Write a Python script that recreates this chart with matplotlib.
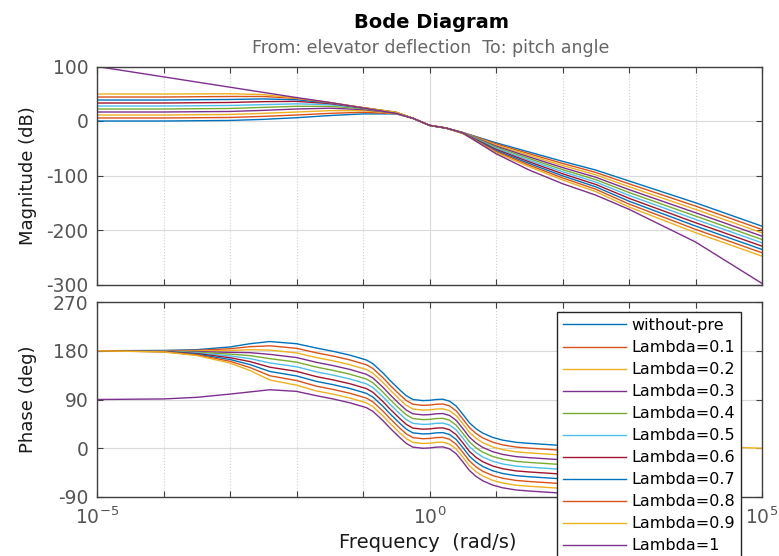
import numpy as np
import matplotlib
matplotlib.use("Agg")
import matplotlib.pyplot as plt
from matplotlib.ticker import FixedLocator, NullFormatter, FixedFormatter

plt.rcParams['font.family'] = ['DejaVu Sans']
plt.rcParams['axes.unicode_minus'] = False
plt.rcParams['mathtext.default'] = 'regular'

# ---------------- data ----------------
series_labels = ['without-pre', 'Lambda=0.1', 'Lambda=0.2', 'Lambda=0.3', 'Lambda=0.4',
                 'Lambda=0.5', 'Lambda=0.6', 'Lambda=0.7', 'Lambda=0.8', 'Lambda=0.9',
                 'Lambda=1']

# log10 of frequency (rad/s) at which values were read
mag_logw = [-5, -4, -3, -2.5, -2, -1.5, -1, -0.5, -0.25, 0, 0.25, 0.5, 1, 1.5, 2, 2.5, 3, 4, 5]
phase_logw = [-5, -4, -3.5, -3, -2.7, -2.4, -2, -1.7, -1.45, -1.2, -0.95, -0.85, -0.7, -0.6,
              -0.45, -0.35, -0.25, -0.1, 0, 0.1, 0.2, 0.3, 0.4, 0.5, 0.6, 0.7, 0.8, 0.95,
              1.1, 1.3, 1.5, 2, 2.5, 3, 4, 4.5, 5]

# Magnitude (dB)
mag_wo  = [0, 0, 1, 3, 6, 10, 13, 13, 5, -8, -13, -21, -40, -57, -74, -90, -110, -150, -193]
mag_l01 = [5.5, 5.5, 6.5, 8.5, 11, 14, 16, 13.5, 5, -8, -13, -21.2, -42, -60, -77.8, -94.4, -115.3, -156.1, -199.1]
mag_l02 = [11, 11, 12, 14, 16.5, 19, 19, 14, 5, -8, -13, -21.4, -44, -63, -81.6, -98.8, -120.6, -162.2, -205.2]
mag_l03 = [16.5, 16.5, 17.5, 19.5, 22, 23.5, 21, 14.5, 5, -8, -13, -21.6, -46, -66, -85.4, -103.2, -125.9, -168.3, -211.3]
mag_l04 = [22, 22, 23, 25, 27, 27, 22.5, 15, 5, -8, -13, -21.8, -48, -69, -89.2, -107.6, -131.2, -174.4, -217.4]
mag_l05 = [27.5, 27.5, 28.5, 30, 31.5, 30, 23.5, 15, 5, -8, -13, -22, -50, -72, -93, -112, -136.5, -180.5, -223.5]
mag_l06 = [33, 33, 34, 35.5, 36, 32, 24, 15.5, 5, -8, -13, -22.2, -52, -75, -96.8, -116.4, -141.8, -186.6, -229.6]
mag_l07 = [38.5, 38.5, 39.5, 40.5, 39, 33, 24.5, 15.5, 5, -8, -13, -22.4, -54, -78, -100.6, -120.8, -147.1, -192.7, -235.7]
mag_l08 = [44, 44, 45, 45, 41.5, 33.5, 24.5, 16, 5, -8, -13, -22.6, -56, -81, -104.4, -125.2, -152.4, -198.8, -241.8]
mag_l09 = [49.5, 49.5, 50, 48.5, 42, 34, 24.5, 16, 5, -8, -13, -22.8, -58, -84, -108.2, -129.6, -157.7, -204.9, -247.9]
mag_l10 = [100, 81, 62, 52.5, 43, 34, 24, 14, 5, -8, -13, -22, -60, -90, -115, -136, -162, -222, -298]

# Phase (deg)
ph_wo  = [180, 180.5, 182, 187, 193, 197, 193,
          185, 179, 172, 163, 156, 139, 126, 108, 97, 90, 88, 88.5, 90, 90.5, 87, 78, 63, 47, 36, 28, 20, 15, 11, 9, 5, -5, -40, -150, -170, -178]
ph_l01 = [180, 180.2, 180.8, 183.7, 187.5, 189.1, 184.5,
          176.2, 170.2, 163.2, 154.2, 147.2, 130.2, 117.2, 99.2, 88.2, 81.2, 79.2, 79.7, 81.2, 81.7, 78.2, 69.2, 54.2, 38.2, 27.2, 19.2, 11.2, 6.2, 2.2, 0.2, -3.8, -13.8, -48.8, -158.8, -178.8, -186.8]
ph_l02 = [180, 179.9, 179.6, 180.4, 182, 181.2, 176,
          167.4, 161.4, 154.4, 145.4, 138.4, 121.4, 108.4, 90.4, 79.4, 72.4, 70.4, 70.9, 72.4, 72.9, 69.4, 60.4, 45.4, 29.4, 18.4, 10.4, 2.4, -2.6, -6.6, -8.6, -12.6, -22.6, -57.6, -167.6, -187.6, -195.6]
ph_l03 = [180, 179.6, 178.4, 177.1, 176.5, 173.3, 167.5,
          158.6, 152.6, 145.6, 136.6, 129.6, 112.6, 99.6, 81.6, 70.6, 63.6, 61.6, 62.1, 63.6, 64.1, 60.6, 51.6, 36.6, 20.6, 9.6, 1.6, -6.4, -11.4, -15.4, -17.4, -21.4, -31.4, -66.4, -176.4, -196.4, -204.4]
ph_l04 = [180, 179.3, 177.2, 173.8, 171, 165.4, 159,
          149.8, 143.8, 136.8, 127.8, 120.8, 103.8, 90.8, 72.8, 61.8, 54.8, 52.8, 53.3, 54.8, 55.3, 51.8, 42.8, 27.8, 11.8, 0.8, -7.2, -15.2, -20.2, -24.2, -26.2, -30.2, -40.2, -75.2, -185.2, -205.2, -213.2]
ph_l05 = [180, 179, 176, 170.5, 165.5, 157.5, 150.5,
          141, 135, 128, 119, 112, 95, 82, 64, 53, 46, 44, 44.5, 46, 46.5, 43, 34, 19, 3, -8, -16, -24, -29, -33, -35, -39, -49, -84, -194, -214, -222]
ph_l06 = [180, 178.7, 174.8, 167.2, 160, 149.6, 142,
          132.2, 126.2, 119.2, 110.2, 103.2, 86.2, 73.2, 55.2, 44.2, 37.2, 35.2, 35.7, 37.2, 37.7, 34.2, 25.2, 10.2, -5.8, -16.8, -24.8, -32.8, -37.8, -41.8, -43.8, -47.8, -57.8, -92.8, -202.8, -222.8, -230.8]
ph_l07 = [180, 178.4, 173.6, 163.9, 154.5, 141.7, 133.5,
          123.4, 117.4, 110.4, 101.4, 94.4, 77.4, 64.4, 46.4, 35.4, 28.4, 26.4, 26.9, 28.4, 28.9, 25.4, 16.4, 1.4, -14.6, -25.6, -33.6, -41.6, -46.6, -50.6, -52.6, -56.6, -66.6, -101.6, -211.6, -231.6, -239.6]
ph_l08 = [180, 178.1, 172.4, 160.6, 149, 133.8, 125,
          114.6, 108.6, 101.6, 92.6, 85.6, 68.6, 55.6, 37.6, 26.6, 19.6, 17.6, 18.1, 19.6, 20.1, 16.6, 7.6, -7.4, -23.4, -34.4, -42.4, -50.4, -55.4, -59.4, -61.4, -65.4, -75.4, -110.4, -220.4, -240.4, -248.4]
ph_l09 = [180, 177.8, 171.2, 157.3, 143.5, 125.9, 116.5,
          105.8, 99.8, 92.8, 83.8, 76.8, 59.8, 46.8, 28.8, 17.8, 10.8, 8.8, 9.3, 10.8, 11.3, 7.8, -1.2, -16.2, -32.2, -43.2, -51.2, -59.2, -64.2, -68.2, -70.2, -74.2, -84.2, -119.2, -229.2, 2, 0]
ph_l10 = [90, 91, 94, 100, 104, 108, 105,
          97, 91, 84, 75, 68, 51, 38, 20, 9, 2, 0, 0.5, 2, 2.5, -1, -10, -25, -41, -52, -60, -68, -73, -77, -79, -83, -93, -128, -238, -258, -266]

mag_series = [mag_wo, mag_l01, mag_l02, mag_l03, mag_l04, mag_l05, mag_l06, mag_l07, mag_l08, mag_l09, mag_l10]
phase_series = [ph_wo, ph_l01, ph_l02, ph_l03, ph_l04, ph_l05, ph_l06, ph_l07, ph_l08, ph_l09, ph_l10]

mag_ticks = [-300, -200, -100, 0, 100]
phase_ticks = [-90, 0, 90, 180, 270]
x_major = [1e-5, 1e0, 1e5]
x_major_labels = ['$10^{-5}$', '$10^{0}$', '$10^{5}$']
x_minor = [1e-4, 1e-3, 1e-2, 1e-1, 1e1, 1e2, 1e3, 1e4]

# ---------------- style ----------------
colors = ['#0072BD', '#D95319', '#EDB120', '#7E2F8E', '#77AC30', '#4DBEEE',
          '#A2142F', '#0072BD', '#D95319', '#EDB120', '#7E2F8E']

W, H = 779, 556
fig = plt.figure(figsize=(W / 100, H / 100), dpi=100)


def rect(l, t, r, b):
    return [l / W, 1 - b / H, (r - l) / W, (b - t) / H]


ax1 = fig.add_axes(rect(97, 66.5, 762, 284.5))
ax2 = fig.add_axes(rect(97, 302, 762, 497))

wm = 10.0 ** np.array(mag_logw)
wp = 10.0 ** np.array(phase_logw)
handles = []
for m, p, c in zip(mag_series, phase_series, colors):
    ax1.plot(wm, m, color=c, lw=1.0)
    h, = ax2.plot(wp, p, color=c, lw=1.0)
    handles.append(h)

for ax, yt, ylim in ((ax1, mag_ticks, (-300, 100)), (ax2, phase_ticks, (-90, 270))):
    ax.set_xscale('log')
    ax.set_xlim(1e-5, 1e5)
    ax.set_ylim(*ylim)
    ax.set_yticks(yt)
    ax.set_yticklabels([str(v) for v in yt])
    ax.xaxis.set_major_locator(FixedLocator(x_major))
    ax.xaxis.set_minor_locator(FixedLocator(x_minor))
    ax.xaxis.set_minor_formatter(NullFormatter())
    ax.xaxis.set_major_formatter(FixedFormatter(x_major_labels))
    ax.set_axisbelow(True)
    ax.grid(True, which='major', color='#dadada', lw=0.8, ls='-')
    ax.xaxis.grid(True, which='minor', color='#d0d0d0', lw=0.8, ls=':')
    ax.tick_params(which='both', direction='in', top=True, right=True,
                   length=4, width=0.8, color='#404040', labelcolor='#555555',
                   labelsize=13.5, pad=6)
    for s in ax.spines.values():
        s.set_color('#404040')
        s.set_linewidth(1.0)
    ax.set_facecolor('white')

ax1.tick_params(labelbottom=False)
ax2.tick_params(axis='x', pad=7)

ax1.set_ylabel('Magnitude (dB)', fontsize=13, color='#1a1a1a')
ax2.set_ylabel('Phase (deg)', fontsize=13, color='#1a1a1a')
ax1.yaxis.set_label_coords(-0.09, 0.5)
ax2.yaxis.set_label_coords(-0.09, 0.5)
ax2.set_xlabel('Frequency  (rad/s)', fontsize=14, color='#1a1a1a')
ax2.xaxis.set_label_coords(0.498, -0.185)

fig.text(431 / W, 1 - 22 / H, 'Bode Diagram', ha='center', va='center',
         fontsize=14, fontweight='bold', color='black')
fig.text(431 / W, 1 - 48 / H, 'From: elevator deflection  To: pitch angle',
         ha='center', va='center', fontsize=12.5, color='#666666')

leg = fig.legend(handles, series_labels, loc='upper left',
                 bbox_to_anchor=(557 / W, 1 - 312 / H), bbox_transform=fig.transFigure,
                 borderaxespad=0, frameon=True, fancybox=False, framealpha=1,
                 edgecolor='#262626', fontsize=11.5, handlelength=3.95,
                 handletextpad=0.33, labelspacing=0.44, borderpad=0.38)
leg.get_frame().set_linewidth(1.0)

fig.savefig('out.png', dpi=100)
